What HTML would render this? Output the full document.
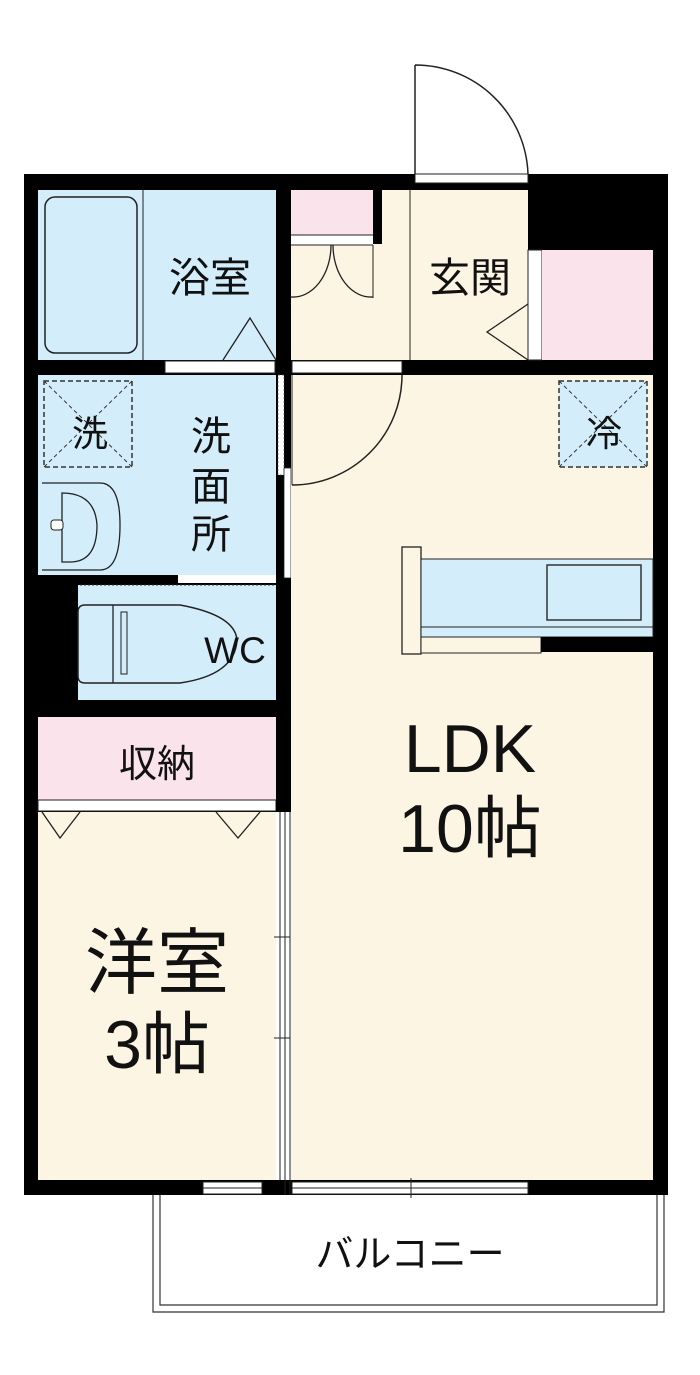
<!DOCTYPE html>
<html><head><meta charset="utf-8"><style>
html,body{margin:0;padding:0;background:#fff;}
svg{display:block;}
text{font-family:"Liberation Sans","Noto Sans CJK JP",sans-serif;fill:#111;text-anchor:middle;}
</style></head><body>
<svg width="700" height="1375" viewBox="0 0 700 1375" xmlns="http://www.w3.org/2000/svg">
<path d="M415,65 L415,174 M415,65 A113,113 0 0 1 528,174" fill="none" stroke="#222" stroke-width="1.5"/>
<rect x="24" y="174" width="644" height="1021" fill="#000"/>
<rect x="38" y="190" width="238" height="170" fill="#d3eefa"/>
<rect x="291" y="190" width="119" height="170" fill="#fdf5e3"/>
<rect x="410" y="190" width="118" height="170" fill="#fdf5e3"/>
<rect x="291" y="190" width="82" height="45" fill="#fbe3ec"/>
<rect x="373" y="190" width="9" height="54" fill="#000"/>
<rect x="291" y="235" width="82" height="10" fill="#fff"/>
<line x1="291" y1="235" x2="373" y2="235" stroke="#222"/>
<line x1="291" y1="245" x2="373" y2="245" stroke="#222"/>
<path d="M291,297 A38,52 0 0 0 331,245 M373,297 A38,52 0 0 1 333,245" fill="none" stroke="#222" stroke-width="1.3"/>
<line x1="373" y1="245" x2="373" y2="298" stroke="#222"/>
<line x1="410" y1="190" x2="410" y2="360" stroke="#222"/>
<rect x="528" y="250" width="14" height="110" fill="#fff" stroke="#222"/>
<rect x="542" y="250" width="111" height="110" fill="#fbe3ec"/>
<path d="M528,304 L487,332 L528,360" fill="none" stroke="#222" stroke-width="1.3"/>
<rect x="415" y="174" width="113" height="9" fill="#fff" stroke="#222"/>
<rect x="45" y="197" width="92" height="156" rx="10" fill="#d3eefa" stroke="#222" stroke-width="1.5"/>
<line x1="143" y1="190" x2="143" y2="360" stroke="#222"/>
<path d="M223,360 L250,318 L276,360" fill="none" stroke="#222" stroke-width="1.3"/>
<rect x="165" y="361" width="110" height="12" fill="#fff" stroke="#222"/>
<rect x="292" y="361" width="110" height="12" fill="#fff" stroke="#222"/>
<rect x="38" y="375" width="238" height="200" fill="#d3eefa"/>
<rect x="44" y="381" width="88" height="86" fill="none" stroke="#333" stroke-dasharray="5,3" stroke-width="1.5"/>
<path d="M44,381 L132,467 M132,381 L44,467" stroke="#333" stroke-dasharray="4,3"/>
<path d="M42,483 L100,483 Q120,483 120,525 Q120,570 100,570 L42,570" fill="#d3eefa" stroke="#222" stroke-width="1.3"/>
<path d="M62,493 Q95,493 97,525 Q97,562 70,562 L62,562 Z" fill="none" stroke="#222" stroke-width="1.3"/>
<rect x="51" y="520" width="12" height="10" rx="3" fill="#fff" stroke="#222"/>
<rect x="24" y="575" width="54" height="140" fill="#000"/>
<rect x="78" y="585" width="198" height="115" fill="#d3eefa"/>
<rect x="80" y="575" width="98" height="7" fill="#000"/>
<rect x="178" y="575" width="98" height="8" fill="#fff"/>
<line x1="80" y1="585" x2="276" y2="585" stroke="#333" stroke-dasharray="2,2"/>
<path d="M85,605 L180,605 Q235,615 237,640 Q235,675 180,683 L85,683 Q78,683 78,676 L78,612 Q78,605 85,605 Z" fill="#d3eefa" stroke="#222" stroke-width="1.5"/>
<line x1="113" y1="605" x2="113" y2="683" stroke="#222" stroke-width="1.3"/>
<rect x="121" y="612" width="6" height="62" fill="none" stroke="#222"/>
<rect x="276" y="360" width="15" height="115" fill="#000"/>
<rect x="278" y="375" width="6" height="100" fill="#fff" stroke="#555" stroke-dasharray="2,2" stroke-width="0.7"/>
<rect x="284" y="468" width="7" height="110" fill="#fff" stroke="#222" stroke-width="0.8"/>
<rect x="291" y="375" width="362" height="805" fill="#fdf5e3"/>
<path d="M402,375 A110,110 0 0 1 292,485" fill="none" stroke="#222" stroke-width="1.5"/>
<line x1="292" y1="375" x2="292" y2="485" stroke="#222"/>
<rect x="559" y="381" width="88" height="86" fill="#d3eefa" stroke="#333" stroke-dasharray="5,3" stroke-width="1.5"/>
<path d="M559,381 L647,467 M647,381 L559,467" stroke="#333" stroke-dasharray="4,3"/>
<rect x="402" y="547" width="19" height="107" fill="#fdf5e3" stroke="#222" stroke-width="1.3"/>
<rect x="421" y="559" width="232" height="78" fill="#d3eefa" stroke="#222"/>
<line x1="421" y1="627" x2="653" y2="627" stroke="#222"/>
<rect x="547" y="565" width="94" height="55" fill="none" stroke="#333" stroke-width="1.5"/>
<rect x="421" y="637" width="120" height="16" fill="#fdf5e3" stroke="#222"/>
<rect x="541" y="637" width="127" height="15" fill="#000"/>
<rect x="38" y="717" width="238" height="83" fill="#fbe3ec"/>
<rect x="38" y="800" width="238" height="11" fill="#fff" stroke="#222"/>
<rect x="38" y="812" width="238" height="368" fill="#fdf5e3"/>
<path d="M42,812 L60,838 L80,812 M216,812 L238,838 L260,812" fill="none" stroke="#222" stroke-width="1.3"/>
<rect x="276" y="700" width="15" height="112" fill="#000"/>
<rect x="276" y="812" width="15" height="368" fill="#fff"/>
<line x1="280" y1="812" x2="280" y2="1180" stroke="#222"/>
<line x1="285" y1="812" x2="285" y2="1195" stroke="#222"/>
<line x1="290" y1="812" x2="290" y2="1195" stroke="#222"/>
<line x1="274" y1="937" x2="290" y2="937" stroke="#222"/>
<line x1="274" y1="1038" x2="290" y2="1038" stroke="#222"/>
<rect x="203" y="1182" width="59" height="12" fill="#fff" stroke="#222"/>
<line x1="203" y1="1188" x2="262" y2="1188" stroke="#222"/>
<rect x="292" y="1182" width="236" height="12" fill="#fff" stroke="#222"/>
<line x1="292" y1="1188" x2="528" y2="1188" stroke="#222"/>
<line x1="411" y1="1178" x2="411" y2="1198" stroke="#222"/>
<path d="M153,1195 L153,1312 L664,1312 L664,1195" fill="none" stroke="#333" stroke-width="1.2"/>
<path d="M160,1195 L160,1305 L657,1305 L657,1195" fill="none" stroke="#333" stroke-width="1.2"/>
<text x="210" y="292" font-size="41">浴室</text>
<text x="470" y="292" font-size="41">玄関</text>
<text x="90" y="446" font-size="36">洗</text>
<text x="604" y="446" font-size="36">冷</text>
<text x="211" y="450" font-size="40">洗</text>
<text x="211" y="500" font-size="40">面</text>
<text x="211" y="548" font-size="40">所</text>
<text x="235" y="663" font-size="37">WC</text>
<text x="157" y="777" font-size="38">収納</text>
<text x="470" y="772" font-size="68">LDK</text>
<text x="470" y="852" font-size="68">10帖</text>
<text x="157" y="988" font-size="72">洋室</text>
<text x="157" y="1068" font-size="68">3帖</text>
<text x="410" y="1267" font-size="38">バルコニー</text>
</svg>
</body></html>
